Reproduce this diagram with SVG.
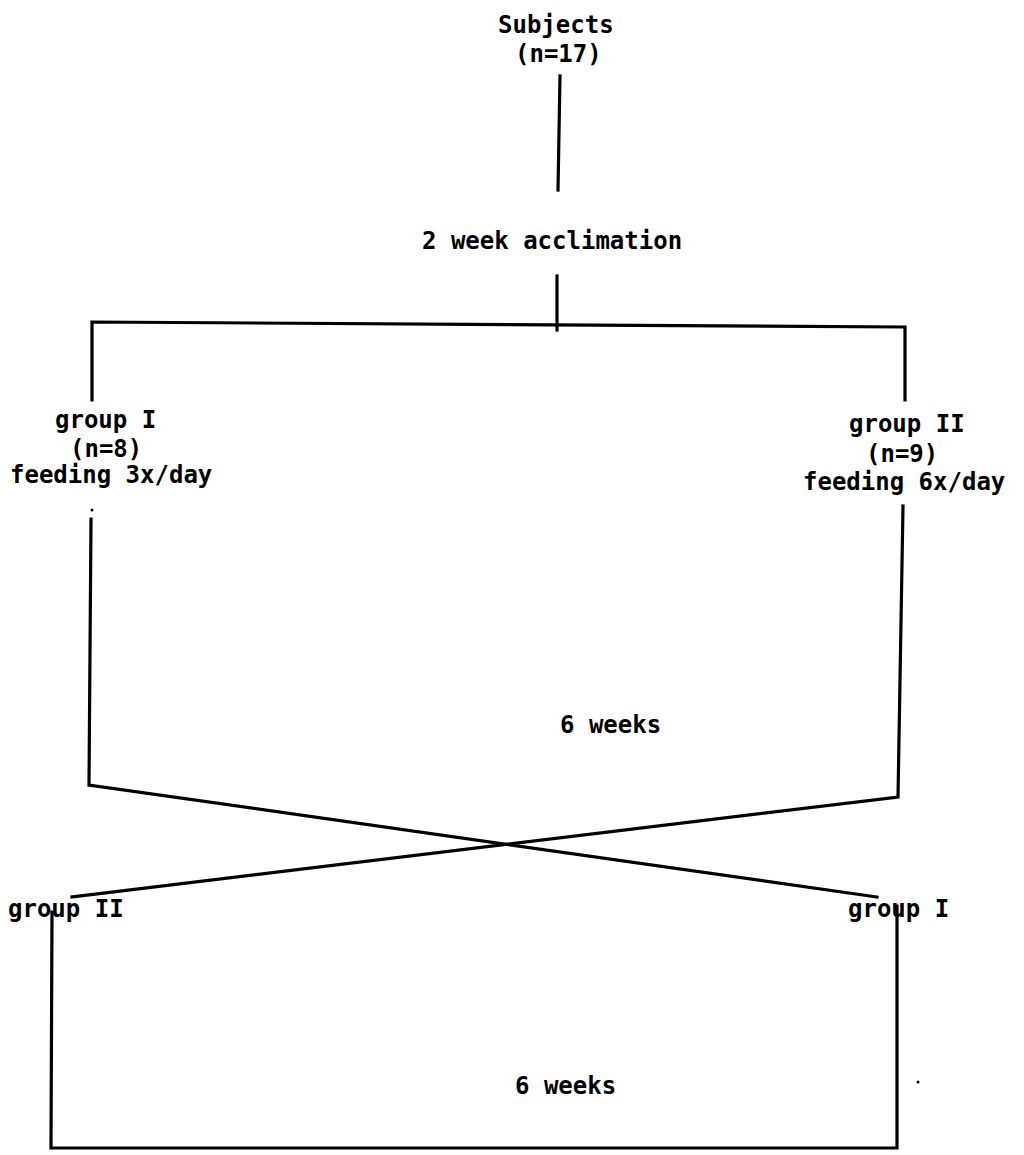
<svg xmlns="http://www.w3.org/2000/svg" width="1024" height="1155" viewBox="0 0 1024 1155">
<style>
text{font-family:"DejaVu Sans Mono","Liberation Mono",monospace;font-weight:bold;font-size:24px;fill:#000}
.ln{stroke:#000;stroke-width:3.2;fill:none;stroke-linecap:square;stroke-linejoin:miter}
</style>
<rect width="1024" height="1155" fill="#fff"/>
<g id="connectors">
<line class="ln" x1="560" y1="76" x2="558" y2="190"/>
<line class="ln" x1="557" y1="276" x2="557" y2="330"/>
<polyline class="ln" points="92,400 92,322 905,327 905,400"/>
<polyline class="ln" points="91,519 89,785 877,897"/>
<polyline class="ln" points="903,506 898,797 72,897"/>
<polyline class="ln" points="52,912 51,1148 897,1148 897,906"/>
<circle cx="92" cy="510" r="1.5" fill="#000"/>
<circle cx="918" cy="1082" r="1.5" fill="#000"/>
</g>
<g id="subjects"><text x="498" y="33">Subjects</text><text x="515" y="62">(n=17)</text></g>
<g id="acclimation"><text x="422" y="249">2 week acclimation</text></g>
<g id="group1"><text x="55" y="428">group I</text><text x="70" y="457">(n=8)</text><text x="10" y="483">feeding 3x/day</text></g>
<g id="group2"><text x="849" y="432">group II</text><text x="866" y="462">(n=9)</text><text x="803" y="490">feeding 6x/day</text></g>
<g id="weeks1"><text x="560" y="733">6 weeks</text></g>
<g id="group2b"><text x="8" y="917">group II</text></g>
<g id="group1b"><text x="848" y="917">group I</text></g>
<g id="weeks2"><text x="515" y="1094">6 weeks</text></g>
</svg>
